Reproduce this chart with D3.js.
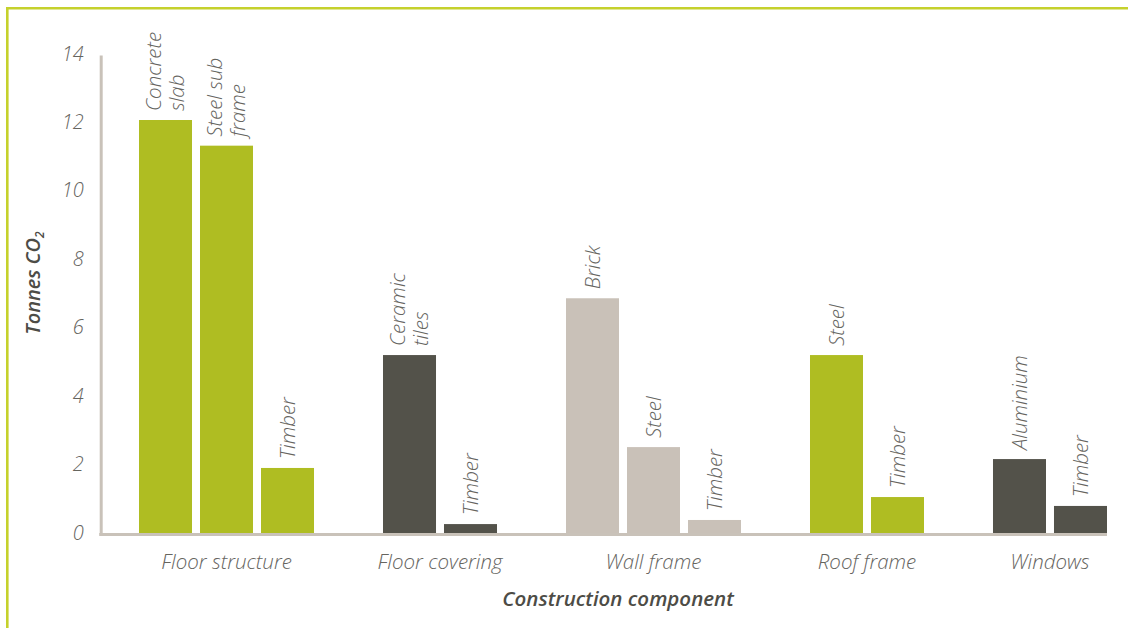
<!DOCTYPE html>
<html>
<head>
<meta charset="utf-8">
<script src="https://cdn.jsdelivr.net/npm/d3@7"></script>
<style>
  body { margin: 0; background: #fff; }
  text { font-family: "Open Sans", Lato, sans-serif; }
</style>
</head>
<body>
<div id="chart"></div>
<script>
const categories = ["Floor structure", "Floor covering", "Wall frame", "Roof frame", "Windows"];
const materials = [
    ["Concrete\nslab", "Steel sub\nframe", "Timber"],
    ["Ceramic\ntiles", "Timber"],
    ["Brick", "Steel", "Timber"],
    ["Steel", "Timber"],
    ["Aluminium", "Timber"]
];
const values = [
    [12.1, 11.35, 1.93],
    [5.23, 0.29],
    [6.89, 2.54, 0.41],
    [5.23, 1.08],
    [2.19, 0.82]
];
const yTicks = [0, 2, 4, 6, 8, 10, 12, 14];
const groupColors = ["#afbd22", "#53524a", "#c9c1b8", "#afbd22", "#53524a"];

const width = 1128;
const height = 628;
const plot = { left: 100, right: 1107, top: 55, bottom: 534 };
const barsLeft = 139;

// flatten to one bar per slot, with an empty slot between groups
const bars = [];
const slots = [];
categories.forEach((cat, i) => {
    if (i > 0) slots.push("gap" + i);
    materials[i].forEach((m, j) => {
        const key = cat + "|" + j;
        slots.push(key);
        bars.push({ key: key, group: cat, gi: i, label: m, value: values[i][j] });
    });
});

const svg = d3.select("#chart")
    .append("svg")
    .attr("width", width)
    .attr("height", height);

// frame lines top and left
svg.append("path")
    .attr("d", `M7.3,${height} V8.3 H${width}`)
    .attr("fill", "none")
    .attr("stroke", "#c5d12c")
    .attr("stroke-width", 2.6);

const x = d3.scaleBand()
    .domain(slots)
    .range([barsLeft, plot.right])
    .paddingInner(0.131)
    .paddingOuter(0);

const y = d3.scaleLinear()
    .domain([0, 14])
    .range([plot.bottom, plot.top]);

const color = d3.scaleOrdinal()
    .domain(categories)
    .range(groupColors);

const labelFont = "20.5px";

// y axis
const yAxis = svg.append("g")
    .attr("transform", `translate(${plot.left + 0.7},0)`)
    .call(d3.axisLeft(y).tickValues(yTicks).tickSize(0).tickSizeOuter(0).tickPadding(17));
yAxis.select(".domain")
    .attr("stroke", "#c9c2b9")
    .attr("stroke-width", 3);
yAxis.selectAll("text")
    .attr("fill", "#66655f")
    .style("font-size", "20px")
    .style("font-style", "italic")
    .style("font-weight", 300)
    .attr("dy", "0.25em");

// bars
svg.append("g")
    .selectAll("rect")
    .data(bars)
    .enter()
    .append("rect")
    .attr("x", d => x(d.key))
    .attr("y", d => y(d.value))
    .attr("width", x.bandwidth())
    .attr("height", d => y(0) - y(d.value))
    .attr("fill", d => color(d.group));

// baseline
svg.append("line")
    .attr("x1", plot.left - 0.8)
    .attr("x2", plot.right)
    .attr("y1", y(0) + 0.5)
    .attr("y2", y(0) + 0.5)
    .attr("stroke", "#c9c2b9")
    .attr("stroke-width", 3);

// rotated material labels above each bar
const labels = svg.append("g")
    .selectAll("text")
    .data(bars)
    .enter()
    .append("text")
    .attr("transform", d => `translate(${x(d.key) + x.bandwidth() / 2},${y(d.value) - 9}) rotate(-90)`)
    .attr("fill", "#66655f")
    .style("font-size", labelFont)
    .style("font-style", "italic")
    .style("font-weight", 300);

labels.each(function(d) {
    const lines = d.label.split("\n");
    const t = d3.select(this);
    lines.forEach((line, i) => {
        t.append("tspan")
            .attr("x", 0)
            .attr("y", 0)
            .attr("dy", ((i - (lines.length - 1) / 2) * 1.1 + 0.35) + "em")
            .text(line);
    });
});

// category labels under groups
svg.append("g")
    .selectAll("text")
    .data(categories)
    .enter()
    .append("text")
    .attr("x", (c, i) => {
        const keys = materials[i].map((m, j) => c + "|" + j);
        return (x(keys[0]) + x(keys[keys.length - 1]) + x.bandwidth()) / 2;
    })
    .attr("y", 569)
    .attr("text-anchor", "middle")
    .attr("fill", "#66655f")
    .style("font-size", labelFont)
    .style("font-style", "italic")
    .style("font-weight", 300)
    .text(d => d);

// axis titles
svg.append("text")
    .attr("x", 618)
    .attr("y", 606)
    .attr("text-anchor", "middle")
    .attr("fill", "#4d4c46")
    .style("font-size", "20.5px")
    .style("font-style", "italic")
    .style("font-weight", 600)
    .text("Construction component");

const yTitle = svg.append("text")
    .attr("transform", "translate(40,283) rotate(-90)")
    .attr("text-anchor", "middle")
    .attr("fill", "#4d4c46")
    .style("font-size", "20px")
    .style("font-style", "italic")
    .style("font-weight", 600);
yTitle.append("tspan").text("Tonnes CO");
yTitle.append("tspan")
    .attr("dy", "0.3em")
    .style("font-size", "12px")
    .text("2");
</script>
</body>
</html>
